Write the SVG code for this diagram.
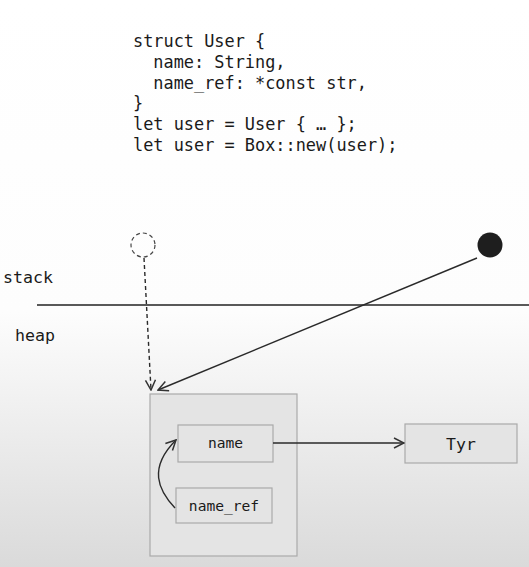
<svg xmlns="http://www.w3.org/2000/svg" width="529" height="567" viewBox="0 0 529 567">
<defs>
<linearGradient id="bg" x1="0" y1="0" x2="0" y2="1">
<stop offset="0" stop-color="#ffffff"/>
<stop offset="0.55" stop-color="#fdfdfd"/>
<stop offset="1" stop-color="#dadada"/>
</linearGradient>
<marker id="arr" viewBox="0 0 12 12" refX="11" refY="6" markerWidth="12" markerHeight="12" markerUnits="userSpaceOnUse" orient="auto">
<path d="M1,1 L11,6 L1,11" fill="none" stroke="#333" stroke-width="1.5"/>
</marker>
</defs>
<style>
.code{font-family:"DejaVu Sans Mono","Liberation Mono",monospace;font-size:16.9px;fill:#1a1a1a;white-space:pre}
.lbl{font-family:"DejaVu Sans Mono","Liberation Mono",monospace;font-size:14.6px;fill:#1a1a1a;text-anchor:middle}
.side{font-family:"DejaVu Sans Mono","Liberation Mono",monospace;font-size:16.6px;fill:#1a1a1a}
.box{fill:#e4e4e4;stroke:#aaaaaa;stroke-width:1.2}
.ln{fill:none;stroke:#2a2a2a;stroke-width:1.4}
</style>
<rect x="0" y="0" width="529" height="567" fill="url(#bg)"/>
<g id="code">
<text class="code" x="133" y="47">struct User {</text>
<text class="code" x="133" y="68" xml:space="preserve">  name: String,</text>
<text class="code" x="133" y="89" xml:space="preserve">  name_ref: *const str,</text>
<text class="code" x="133" y="109">}</text>
<text class="code" x="133" y="130">let user = User { … };</text>
<text class="code" x="133" y="151">let user = Box::new(user);</text>
</g>
<g id="stack-label"><text class="side" x="3" y="283">stack</text></g>
<g id="heap-label"><text class="side" x="15" y="341">heap</text></g>
<line x1="37" y1="305" x2="529" y2="305" stroke="#222" stroke-width="1.4"/>
<g id="old-user"><circle cx="143" cy="245" r="12" fill="none" stroke="#444" stroke-width="1.2" stroke-dasharray="4,3"/></g>
<g id="user"><circle cx="490" cy="245" r="12.5" fill="#1e1e1e"/></g>
<g id="box-user"><rect class="box" x="150" y="394" width="147" height="162"/></g>
<g id="name"><rect class="box" x="178" y="425" width="95" height="37"/><text class="lbl" x="225.5" y="448">name</text></g>
<g id="name_ref"><rect class="box" x="176" y="488" width="96" height="35"/><text class="lbl" x="224" y="511">name_ref</text></g>
<g id="tyr"><rect class="box" x="405" y="424" width="112" height="39"/><text class="lbl" x="461" y="450" style="font-size:16.5px">Tyr</text></g>
<g id="connectors">
<path class="ln" d="M144,258 L151,390" stroke-dasharray="4,3" marker-end="url(#arr)"/>
<path class="ln" d="M477,258 L158,390" marker-end="url(#arr)"/>
<path class="ln" d="M273,443 L404,443" marker-end="url(#arr)"/>
<path class="ln" d="M175,508 C158,490 148,468 176,440" marker-end="url(#arr)"/>
</g>
</svg>
